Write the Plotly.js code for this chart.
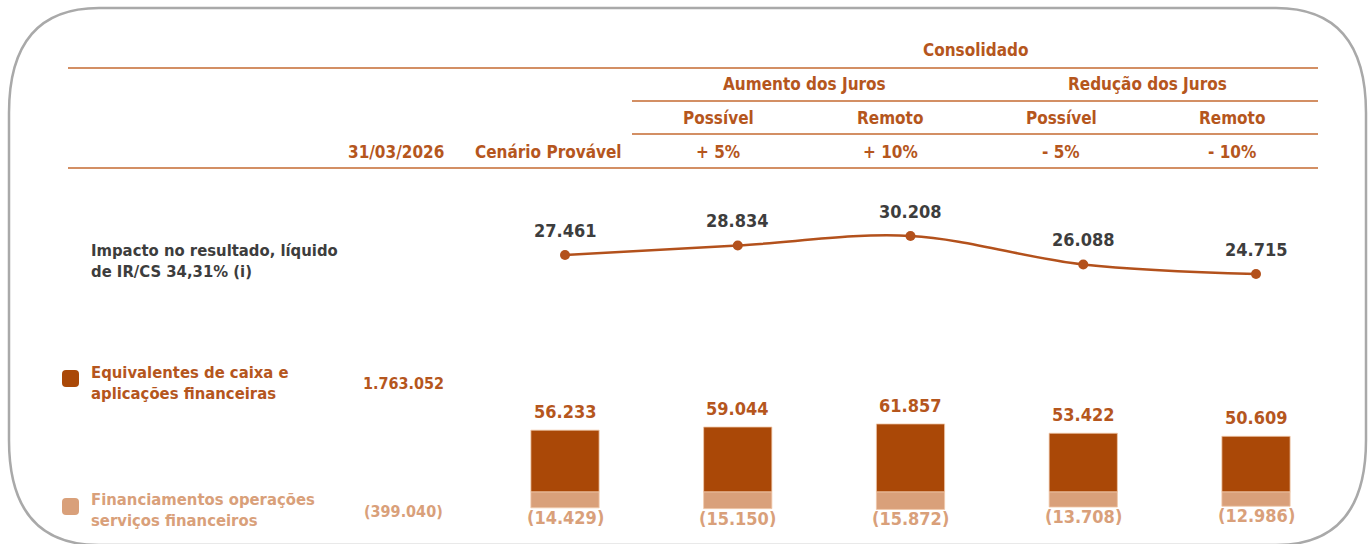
<!DOCTYPE html>
<html>
<head>
<meta charset="utf-8">
<script src="https://cdn.plot.ly/plotly-3.0.1.min.js"></script>
<style>html,body{margin:0;padding:0;background:#fff;}#chart{width:1371px;height:544px;}</style>
</head>
<body>
<div id="chart"></div>
<script>
// ---- data ----
const categories = ['Cenário Provável', 'Aumento Possível +5%', 'Aumento Remoto +10%', 'Redução Possível -5%', 'Redução Remoto -10%'];
const impacto = [27461, 28834, 30208, 26088, 24715];
const equivalentes = [56233, 59044, 61857, 53422, 50609];
const financiamentos = [-14429, -15150, -15872, -13708, -12986];
const baseEquivalentes = 1763052;
const baseFinanciamentos = -399040;
const headerTop = 'Consolidado';
const headerGroups = ['Aumento dos Juros', 'Redução dos Juros'];
const headerSub = ['Possível', 'Remoto', 'Possível', 'Remoto'];
const headerPct = ['+ 5%', '+ 10%', '- 5%', '- 10%'];
const colDate = '31/03/2026';
const colProvavel = 'Cenário Provável';
const labelImpacto = 'Impacto no resultado, líquido<br>de IR/CS 34,31% (i)';
const labelEquiv = 'Equivalentes de caixa e<br>aplicações financeiras';
const labelFin = 'Financiamentos operações<br>serviços financeiros';

// ---- helpers ----
function fmt(v) {
  const s = Math.abs(v).toString().replace(/\B(?=(\d{3})+(?!\d))/g, '.');
  return v < 0 ? '(' + s + ')' : s;
}
const W = 1371, H = 544;
const px = x => x / W;
const py = y => 1 - y / H;

const FONT = "'Liberation Sans Narrow', 'Arial Narrow', 'DejaVu Sans Condensed', Arial, sans-serif";
const C_HEAD = '#B5561D';
const C_DARK = '#AA4807';
const C_LIGHT = '#D9A07A';
const C_LINE = '#B3511C';
const C_GRAY = '#3d3d3d';
const C_RULE = '#C46A30';

// ---- traces ----
const traces = [
  {
    type: 'bar', x: categories, y: equivalentes, xaxis: 'x', yaxis: 'y2',
    marker: {color: C_DARK, line: {color: 'rgba(240,200,170,0.8)', width: 1}},
    width: 0.395, hoverinfo: 'none', name: 'Equivalentes'
  },
  {
    type: 'bar', x: categories, y: financiamentos, xaxis: 'x', yaxis: 'y2',
    marker: {color: C_LIGHT, line: {color: 'rgba(240,200,170,0.8)', width: 1}},
    width: 0.395, hoverinfo: 'none', name: 'Financiamentos'
  },
  {
    type: 'scatter', mode: 'lines+markers', x: categories, y: impacto, xaxis: 'x', yaxis: 'y',
    line: {color: C_LINE, width: 2.5, shape: 'spline', smoothing: 1},
    marker: {color: C_LINE, size: 10},
    hoverinfo: 'none', name: 'Impacto'
  }
];

// ---- annotations ----
const ann = [];
function txt(x, y, text, color, size, xanchor, extra) {
  ann.push(Object.assign({
    xref: 'paper', yref: 'paper', x: px(x), y: py(y), text: text, showarrow: false,
    xanchor: xanchor || 'center', yanchor: 'middle', align: xanchor === 'left' ? 'left' : 'center',
    font: {family: FONT, size: size, color: color, weight: 'bold'}
  }, extra || {}));
}
txt(975, 50, headerTop, C_HEAD, 17);
txt(804, 84, headerGroups[0], C_HEAD, 17);
txt(1147, 84, headerGroups[1], C_HEAD, 17);
const subX = [718, 890, 1061, 1232];
headerSub.forEach((t, i) => txt(subX[i], 118, t, C_HEAD, 17));
headerPct.forEach((t, i) => txt(subX[i], 152, t, C_HEAD, 17));
txt(446, 152, colDate, C_HEAD, 17, 'right');
txt(548, 152, colProvavel, C_HEAD, 17);
txt(89, 261, labelImpacto, C_GRAY, 16.5, 'left');
txt(89, 383, labelEquiv, C_HEAD, 16.5, 'left');
txt(89, 510, labelFin, C_LIGHT, 16.5, 'left');
txt(404, 383, fmt(baseEquivalentes), C_HEAD, 16);
txt(404, 511, fmt(baseFinanciamentos), C_LIGHT, 16);

categories.forEach((c, i) => {
  ann.push({xref: 'x', yref: 'y', x: c, y: impacto[i], text: fmt(impacto[i]), showarrow: false,
    yanchor: 'bottom', yshift: 12, font: {family: FONT, size: 18, color: C_GRAY, weight: 'bold'}});
  ann.push({xref: 'x', yref: 'y2', x: c, y: equivalentes[i], text: fmt(equivalentes[i]), showarrow: false,
    yanchor: 'bottom', yshift: 6, font: {family: FONT, size: 18, color: C_HEAD, weight: 'bold'}});
  ann.push({xref: 'x', yref: 'y2', x: c, y: financiamentos[i], text: fmt(financiamentos[i]), showarrow: false,
    yanchor: 'top', yshift: 3, font: {family: FONT, size: 18, color: C_LIGHT, weight: 'bold'}});
});

// ---- shapes ----
const shapes = [];
function hline(x0, x1, y) {
  shapes.push({type: 'line', xref: 'paper', yref: 'paper', x0: px(x0), x1: px(x1), y0: py(y), y1: py(y),
    line: {color: C_RULE, width: 1.5}});
}
hline(68, 1318, 68);
hline(632, 1318, 101);
hline(632, 1318, 134);
hline(68, 1318, 168);

function roundRect(x0, y0, x1, y1, rx, ry) {
  const P = (x, y) => px(x) + ',' + py(y);
  return 'M' + P(x0 + rx, y0) + ' L' + P(x1 - rx, y0) + ' Q' + P(x1, y0) + ' ' + P(x1, y0 + ry) +
    ' L' + P(x1, y1 - ry) + ' Q' + P(x1, y1) + ' ' + P(x1 - rx, y1) +
    ' L' + P(x0 + rx, y1) + ' Q' + P(x0, y1) + ' ' + P(x0, y1 - ry) +
    ' L' + P(x0, y0 + ry) + ' Q' + P(x0, y0) + ' ' + P(x0 + rx, y0) + ' Z';
}
shapes.push({type: 'path', xref: 'paper', yref: 'paper', path: roundRect(9, 8, 1366, 545, 90, 105),
  line: {color: '#A9A9A9', width: 2.5}, layer: 'below'});
shapes.push({type: 'path', xref: 'paper', yref: 'paper', path: roundRect(62, 370, 79, 387, 4, 4),
  fillcolor: C_DARK, line: {width: 0}});
shapes.push({type: 'path', xref: 'paper', yref: 'paper', path: roundRect(62, 498, 79, 515, 4, 4),
  fillcolor: C_LIGHT, line: {width: 0}});

// ---- layout ----
const slot = 172.75, first = 565;
const layout = {
  width: W, height: H,
  margin: {l: 0, r: 0, t: 0, b: 0},
  paper_bgcolor: '#ffffff', plot_bgcolor: 'rgba(0,0,0,0)',
  showlegend: false,
  barmode: 'relative',
  xaxis: {type: 'category', categoryarray: categories, range: [-first / slot, (W - first) / slot],
    visible: false, fixedrange: true},
  yaxis: {range: [-14320, 64320], visible: false, fixedrange: true},
  yaxis2: {range: [-47300, 447300], overlaying: 'y', visible: false, fixedrange: true},
  annotations: ann,
  shapes: shapes
};

Plotly.newPlot('chart', traces, layout, {displayModeBar: false, staticPlot: true});
</script>
</body>
</html>
